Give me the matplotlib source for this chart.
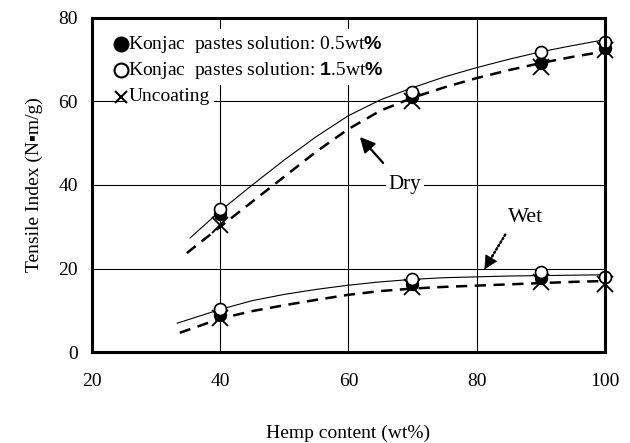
import matplotlib
matplotlib.use('Agg')
import matplotlib.pyplot as plt

plt.rcParams['font.family'] = ['Liberation Serif', 'DejaVu Sans']
plt.rcParams['mathtext.fontset'] = 'custom'
plt.rcParams['mathtext.rm'] = 'Liberation Serif'
plt.rcParams['mathtext.sf'] = 'Liberation Sans:bold'

# measured points (hemp content in wt%)
hemp = [40, 70, 90, 100]
dry_05 = [33.0, 61.0, 69.2, 72.8]
dry_15 = [34.2, 62.3, 71.9, 74.3]
dry_unc = [30.4, 60.2, 68.3, 72.3]
wet_05 = [8.9, 16.3, 17.7, 17.9]
wet_15 = [10.2, 17.6, 19.2, 17.9]
wet_unc = [8.1, 15.6, 16.8, 16.4]

# trend curves
dry_fit_x = [35.3, 40, 45, 50, 55, 60, 65, 70, 75, 80, 85, 90, 95, 100]
dry_fit_y = [27.3, 33.8, 40.0, 46.0, 51.6, 56.6, 60.4, 63.3, 65.9, 68.1, 70.1, 71.9, 73.4, 74.8]
dry_unc_x = [34.8, 40, 45, 50, 55, 60, 65, 70, 75, 80, 85, 90, 95, 100]
dry_unc_y = [23.7, 30.0, 36.0, 42.0, 48.0, 53.4, 57.8, 60.9, 63.4, 65.6, 67.5, 69.2, 70.7, 72.0]
wet_fit_x = [33.3, 40, 45, 50, 55, 60, 65, 70, 75, 80, 85, 90, 95, 100]
wet_fit_y = [6.9, 10.2, 12.3, 13.8, 15.0, 16.0, 16.8, 17.4, 17.8, 18.0, 18.2, 18.3, 18.4, 18.5]
wet_unc_x = [33.7, 40, 45, 50, 55, 60, 65, 70, 75, 80, 85, 90, 95, 100]
wet_unc_y = [4.6, 8.0, 9.8, 11.2, 12.5, 13.7, 14.6, 15.2, 15.6, 15.9, 16.2, 16.5, 16.8, 17.0]

fig = plt.figure(figsize=(6.3, 4.43), dpi=100)
ax = fig.add_axes([0.146, 0.2054, 0.814, 0.754])

ax.set_xlim(20, 100)
ax.set_ylim(0, 80)
ax.set_xticks([20, 40, 60, 80, 100])
ax.set_yticks([0, 20, 40, 60, 80])
ax.tick_params(length=0, labelsize=14, pad=10)
ax.tick_params(axis='x', pad=15)
for s in ax.spines.values():
    s.set_linewidth(2.2)
    s.set_zorder(10)
for v in [40, 60, 80]:
    ax.axvline(v, color='black', lw=0.8, zorder=0)
for h in [20, 40, 60]:
    ax.axhline(h, color='black', lw=0.8, zorder=0)

ax.plot(dry_fit_x, dry_fit_y, color='black', lw=0.8, zorder=2)
ax.plot(dry_unc_x, dry_unc_y, color='black', lw=1.8, ls=(0, (4.5, 3)), zorder=2)
ax.plot(wet_fit_x, wet_fit_y, color='black', lw=0.8, zorder=2)
ax.plot(wet_unc_x, wet_unc_y, color='black', lw=1.8, ls=(0, (4.5, 3)), zorder=2)

for unc, c05, c15 in [(dry_unc, dry_05, dry_15), (wet_unc, wet_05, wet_15)]:
    ax.plot(hemp, unc, 'x', color='black', ms=11, mew=1.3, zorder=3, clip_on=False)
    ax.plot(hemp, c05, 'o', color='black', ms=8.6, zorder=4, clip_on=False)
    ax.plot(hemp, c15, 'o', mfc='white', mec='black', ms=8.6, mew=1.2, zorder=5, clip_on=False)

# legend drawn as text rows on white patches
leg_rows = [
    ('o', 'black', r'Konjac  pastes solution: 0.5wt$\mathsf{\%}$'),
    ('o', 'white', r'Konjac  pastes solution: $\mathsf{1}$.5wt$\mathsf{\%}$'),
    ('x', 'black', 'Uncoating'),
]
for i, (mk, fc, label) in enumerate(leg_rows):
    y = 0.922 - i * 0.079
    ax.text(0.071, y, label, transform=ax.transAxes, fontsize=14, va='center', ha='left',
            bbox=dict(facecolor='white', edgecolor='none', pad=3), zorder=6)
    if mk == 'x':
        ax.plot([0.056], [y], 'x', transform=ax.transAxes, color='black', ms=8, mew=1.5, zorder=7)
    else:
        ax.plot([0.056], [y], 'o', transform=ax.transAxes, mfc=fc, mec='black', ms=10, mew=1.5, zorder=7)

ax.text(68.8, 40, 'Dry', fontsize=15, ha='center', va='center',
        bbox=dict(facecolor='white', edgecolor='none', pad=2), zorder=6)
ax.annotate('', xy=(61.5, 52), xytext=(65.7, 44.8),
            arrowprops=dict(arrowstyle='-|>,head_length=0.9,head_width=0.45', color='black', lw=1.6))
ax.text(87.6, 32.3, 'Wet', fontsize=16, ha='center', va='center', zorder=6)
# dotted shaft with a solid head
ax.annotate('', xy=(82.0, 21.8), xytext=(84.7, 28.7),
            arrowprops=dict(arrowstyle='-', color='black', lw=1.8, ls=(0, (0.6, 1.0))))
ax.annotate('', xy=(81.0, 19.2), xytext=(82.2, 22.3),
            arrowprops=dict(arrowstyle='-|>,head_length=0.9,head_width=0.45', color='black', lw=0.5))

ax.set_xlabel('Hemp content (wt%)', fontsize=14, labelpad=25)
ax.set_ylabel('Tensile Index (N\u25aam/g)', fontsize=14, labelpad=11)

fig.savefig('out.png', dpi=100)
